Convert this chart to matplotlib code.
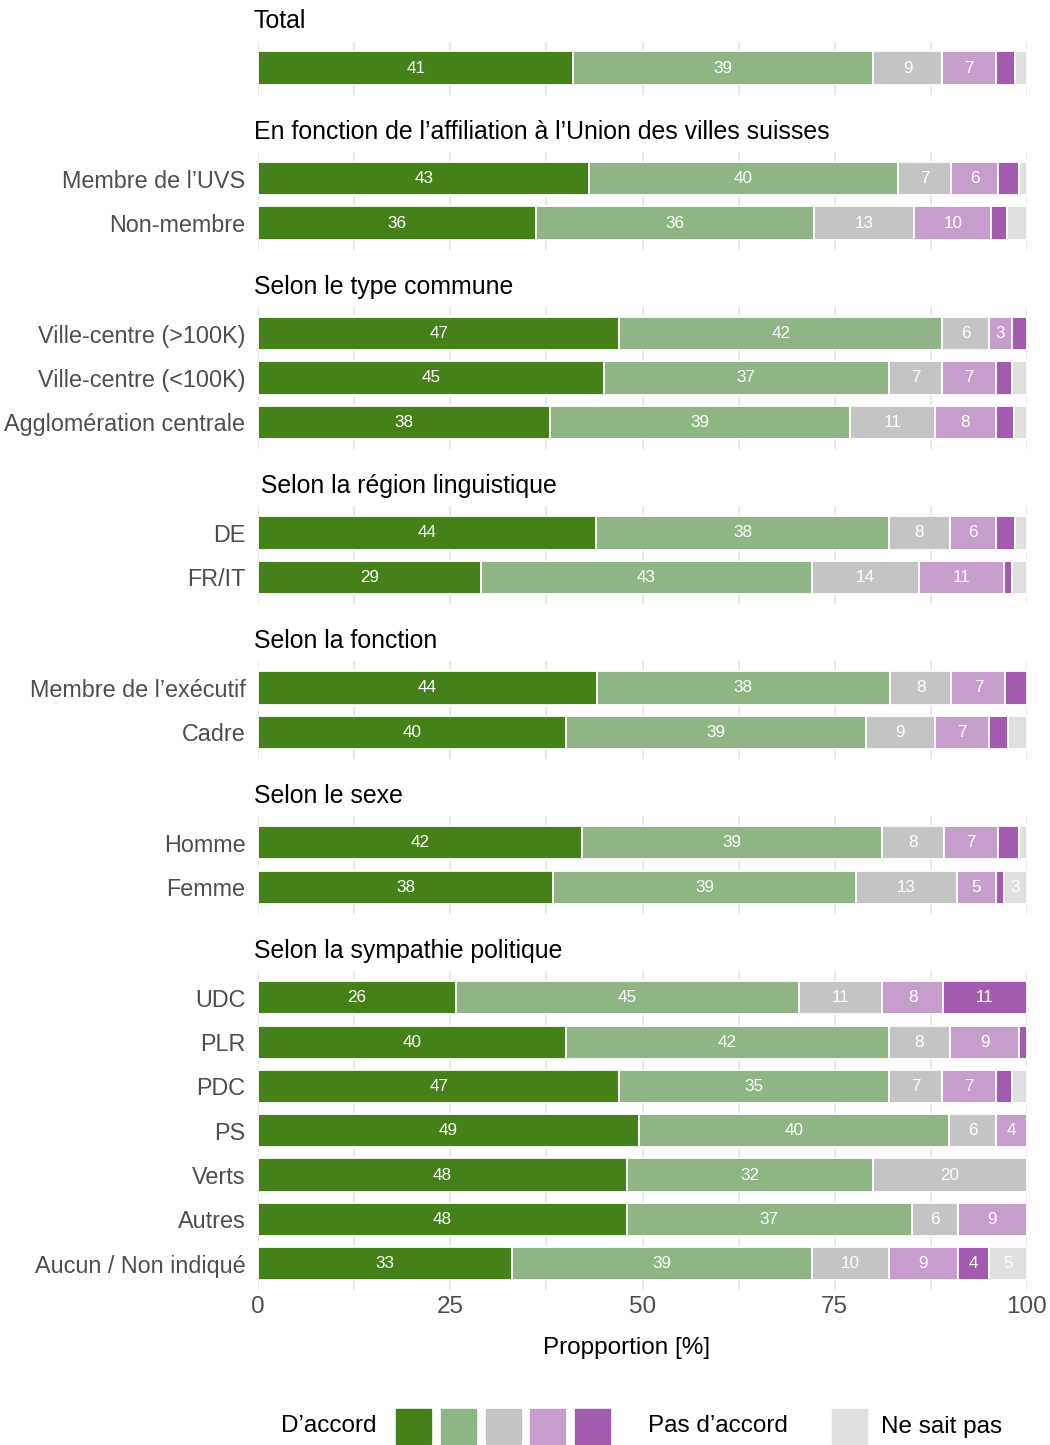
import matplotlib
matplotlib.use("Agg")
import matplotlib.pyplot as plt
from matplotlib.patches import Rectangle
import numpy as np

plt.rcParams['font.family'] = ['Liberation Sans', 'DejaVu Sans']

# ---- data -------------------------------------------------------------
panel_titles = [
    "Total",
    "En fonction de l’affiliation à l’Union des villes suisses",
    "Selon le type commune",
    " Selon la région linguistique",
    "Selon la fonction",
    "Selon le sexe",
    "Selon la sympathie politique",
]
panel_rows = [
    [""],
    ["Membre de l’UVS", "Non-membre"],
    ["Ville-centre (>100K)", "Ville-centre (<100K)", "Agglomération centrale"],
    ["DE", "FR/IT"],
    ["Membre de l’exécutif", "Cadre"],
    ["Homme", "Femme"],
    ["UDC", "PLR", "PDC", "PS", "Verts", "Autres", "Aucun / Non indiqué"],
]

# answer shares (%) per row, in the order of panel_rows
d_accord        = [41, 43, 36, 47, 45, 38, 44, 29, 44, 40, 42, 38, 26, 40, 47, 49, 48, 48, 33]
plutot_accord   = [39, 40, 36, 42, 37, 39, 38, 43, 38, 39, 39, 39, 45, 42, 35, 40, 32, 37, 39]
neutre          = [9, 7, 13, 6, 7, 11, 8, 14, 8, 9, 8, 13, 11, 8, 7, 6, 20, 6, 10]
plutot_pas      = [7, 6, 10, 3, 7, 8, 6, 11, 7, 7, 7, 5, 8, 9, 7, 4, 0, 9, 9]
pas_d_accord    = [2.5, 2.8, 2, 2, 2, 2.3, 2.5, 1, 2.8, 2.5, 2.8, 1, 11, 1, 2, 0, 0, 0, 4]
ne_sait_pas     = [1.5, 1, 2.6, 0, 2, 1.7, 1.5, 2, 0, 2.5, 1, 3, 0, 0, 2, 0, 0, 0, 5]

series = [d_accord, plutot_accord, neutre, plutot_pas, pas_d_accord, ne_sait_pas]
colors = ["#448219", "#8fb585", "#c4c4c4", "#c69ecc", "#a35bb0", "#e0e0e0"]
x_ticks = [0, 25, 50, 75, 100]
legend_left = "D’accord"
legend_mid = "Pas d’accord"
legend_right = "Ne sait pas"

# ---- layout (pixels) ---------------------------------------------------
W, H = 1050, 1445
fig = plt.figure(figsize=(W / 100, H / 100), dpi=100)

def fx(x):
    return x / W

def fy(y):
    return 1 - y / H

ax_left, ax_right = 258, 1027
unit = 44.3
top = 41.5
gap = 57.5
fs = 17.5
fs_title = 17.9
fs_rows = 16.8

vals = np.array(series, dtype=float).T  # rows x categories
row_idx = 0
for p, (title, rows) in enumerate(zip(panel_titles, panel_rows)):
    n = len(rows)
    h = (n + 0.2) * unit
    ax = fig.add_axes([fx(ax_left), fy(top + h), fx(ax_right) - fx(ax_left), h / H])
    ax.set_xlim(0, 100)
    ax.set_ylim(n - 0.4, -0.6)
    ax.set_xticks(x_ticks)
    ax.set_xticks([12.5, 37.5, 62.5, 87.5], minor=True)
    ax.grid(True, axis='x', which='both', color='#e6e6e6', lw=1.3, zorder=0)
    ax.set_axisbelow(True)
    for s in ax.spines.values():
        s.set_visible(False)
    ax.set_yticks(range(n))
    ax.set_yticklabels(rows, fontsize=fs_rows, color='#4d4d4d')
    ax.tick_params(axis='y', length=0, pad=9)
    ax.tick_params(axis='x', which='both', length=0)
    if p < len(panel_titles) - 1:
        ax.set_xticklabels([])
    else:
        ax.set_xticklabels([str(t) for t in x_ticks], fontsize=fs, color='#4d4d4d')
        ax.tick_params(axis='x', pad=4.5)
        ax.set_xlabel("Propportion [%]", fontsize=fs, color='black', va='center')
        ax.xaxis.set_label_coords((627 - ax_left) / (ax_right - ax_left),
                                  -(1348 - (top + h)) / h)

    for r in range(n):
        v = vals[row_idx + r]
        widths = v / v.sum() * 100
        left = 0.0
        for k in range(len(v)):
            if v[k] > 0:
                ax.barh(r, widths[k], left=left, height=0.75, color=colors[k],
                        edgecolor='white', linewidth=1.3, zorder=2)
                if v[k] >= 3:
                    ax.text(left + widths[k] / 2, r, f"{v[k]:g}", ha='center',
                            va='center', color='white', fontsize=12.3, zorder=3)
            left += widths[k]
    row_idx += n

    fig.text(fx(254), fy(top - 13.5), title, fontsize=fs_title, color='black',
             ha='left', va='baseline')
    top += h + gap

# ---- legend -------------------------------------------------------------
ly0, ly1 = 1409, 1444
lyc = (ly0 + ly1) / 2
fig.text(fx(281), fy(lyc), legend_left, fontsize=fs, ha='left', va='center')
for i, x0 in enumerate([396, 441, 486, 530, 575]):
    fig.patches.append(Rectangle((fx(x0), fy(ly1)), fx(35), (ly1 - ly0) / H,
                                 transform=fig.transFigure, color=colors[i],
                                 figure=fig))
fig.text(fx(648), fy(lyc), legend_mid, fontsize=fs, ha='left', va='center')
fig.patches.append(Rectangle((fx(832), fy(ly1)), fx(35), (ly1 - ly0) / H,
                             transform=fig.transFigure, color=colors[5],
                             figure=fig))
fig.text(fx(881), fy(lyc), legend_right, fontsize=fs, ha='left', va='center')

fig.savefig("out.png", dpi=100, facecolor='white')
